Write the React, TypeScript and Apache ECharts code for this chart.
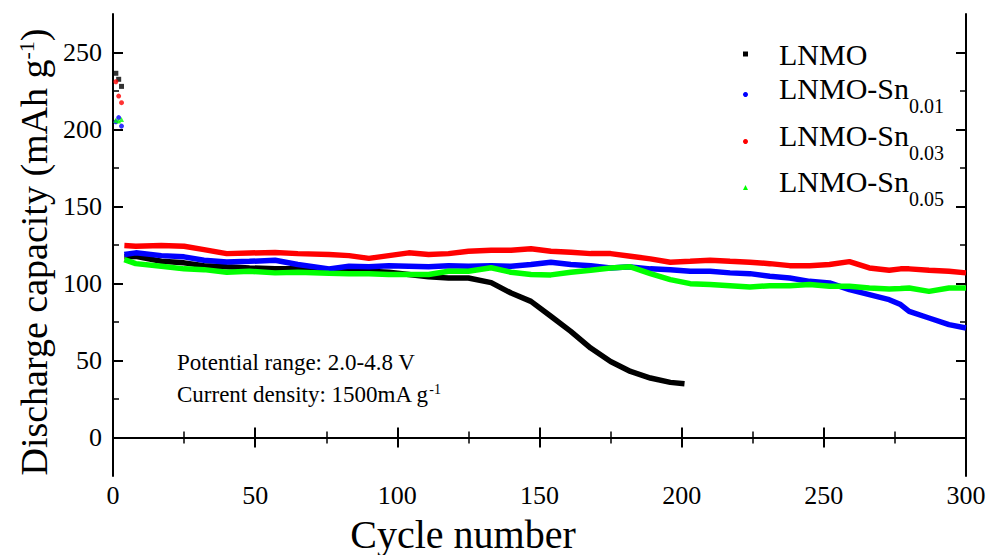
import React, { useEffect, useRef } from 'react';
import * as echarts from 'echarts';

const FONT = 'Liberation Serif';

// first three (low-rate) cycles
const firstCycles = [1, 2, 3];
const lnmoFirst = [236.5, 232.6, 228.0];
const sn001First = [205.0, 207.7, 202.2];
const sn003First = [231.0, 221.7, 217.4];
const sn005First = [206.0, 205.5, 206.5];

// main cycling
const cycles = [4, 8, 17, 25, 32, 40, 48, 57, 65, 76, 83, 90, 97, 104, 111, 118, 125, 133, 140, 147, 154, 161, 168, 175, 182, 189, 196, 203, 210, 217, 224, 231, 238, 245, 252, 259, 266, 273, 277, 280, 287, 294, 300];
const lnmoCycles = [4, 8, 17, 25, 32, 40, 48, 57, 65, 76, 83, 90, 97, 104, 111, 118, 125, 133, 140, 147, 154, 161, 168, 175, 182, 189, 196, 201];
const lnmo = [117.3, 117.6, 114.4, 113.4, 111.6, 110.8, 110.1, 109.5, 109.5, 108.6, 107.9, 107.9, 107.3, 105.8, 104.3, 103.6, 103.6, 100.6, 93.8, 88.4, 78.7, 68.9, 58.1, 49.4, 42.9, 38.6, 35.8, 34.9];
const sn001 = [118.8, 119.9, 118.1, 117.3, 115.1, 114.0, 114.4, 115.1, 112.3, 109.5, 111.2, 110.8, 111.6, 111.2, 110.8, 111.6, 111.2, 111.6, 111.2, 112.3, 113.8, 112.3, 111.6, 110.1, 110.8, 109.5, 109.0, 107.9, 107.9, 106.9, 106.4, 104.7, 103.6, 101.4, 100.4, 96.0, 92.8, 89.5, 86.3, 81.9, 77.6, 73.3, 71.1];
const sn003 = [124.6, 124.2, 124.6, 124.2, 122.0, 119.4, 119.8, 120.2, 119.4, 118.8, 118.1, 116.3, 118.1, 119.9, 118.8, 119.4, 120.9, 121.6, 121.6, 122.5, 120.9, 120.3, 119.4, 119.4, 117.7, 116.0, 113.8, 114.4, 115.1, 114.4, 113.8, 112.9, 111.6, 111.6, 112.3, 114.2, 110.1, 108.6, 109.5, 109.5, 108.6, 107.9, 106.9];
const sn005 = [115.5, 112.9, 111.2, 109.5, 109.0, 107.3, 107.9, 106.9, 107.3, 106.6, 106.4, 106.4, 105.8, 105.8, 105.8, 107.9, 107.9, 110.2, 107.3, 105.8, 105.6, 107.3, 108.6, 110.1, 110.8, 106.4, 102.5, 99.9, 99.3, 98.6, 97.8, 98.6, 98.6, 99.3, 98.2, 98.2, 97.1, 96.5, 96.8, 97.1, 94.9, 97.1, 97.1];

const seriesNames = ['LNMO', 'LNMO-Sn0.01', 'LNMO-Sn0.03', 'LNMO-Sn0.05'];
const seriesColors = ['#000000', '#0000ff', '#ff0000', '#00ff00'];
const seriesSymbols = ['rect', 'circle', 'circle', 'triangle'];

const yMajorTicks = [0, 50, 100, 150, 200, 250];
const yMinorTicks = [25, 75, 125, 175, 225];

const zip = (xs: number[], ys: number[]) => ys.map((y, i) => [xs[i], y]);

export default function App() {
  const ref = useRef<HTMLDivElement>(null);

  useEffect(() => {
    if (!ref.current) return;
    const chart = echarts.init(ref.current, undefined, { renderer: 'svg' });

    const mainData = [zip(lnmoCycles, lnmo), zip(cycles, sn001), zip(cycles, sn003), zip(cycles, sn005)];
    const firstData = [lnmoFirst, sn001First, sn003First, sn005First].map((v) => zip(firstCycles, v));

    const lineSeries = seriesNames.map((name, i) => ({
      name,
      type: 'line',
      data: mainData[i],
      showSymbol: false,
      symbol: seriesSymbols[i],
      lineStyle: { color: seriesColors[i], width: 5.5 },
      itemStyle: { color: seriesColors[i] },
      xAxisIndex: 0,
      yAxisIndex: 0,
      z: 2 + i,
    }));
    const firstSeries = seriesNames.map((name, i) => ({
      name,
      type: 'scatter',
      data: firstData[i],
      symbol: seriesSymbols[i],
      symbolSize: 5,
      itemStyle: { color: seriesColors[i] },
      xAxisIndex: 0,
      yAxisIndex: 0,
      z: 2 + i,
    }));

    const legendTops = [39, 73, 120, 166];
    const legends = seriesNames.map((name, i) => ({
      data: [{ name, icon: seriesSymbols[i] }],
      left: 743,
      top: legendTops[i],
      padding: 0,
      itemWidth: 5,
      itemHeight: 5,
      selectedMode: false,
      formatter: (n: string) => (n === 'LNMO' ? '{a|LNMO}' : '{a|LNMO-Sn}{s|' + n.slice(7) + '}'),
      textStyle: {
        fontFamily: FONT,
        fontSize: 30,
        color: '#000',
        rich: {
          a: { fontFamily: FONT, fontSize: 30, color: '#000', verticalAlign: 'top', padding: [0, 0, 0, 26] },
          s: { fontFamily: FONT, fontSize: 20, color: '#000', verticalAlign: 'bottom', padding: [23, 0, 0, 0] },
        },
      },
    }));

    const axisLineStyle = { color: '#000', width: 2 };

    const yBase = {
      type: 'value',
      min: -25,
      max: 275,
      interval: 25,
      splitLine: { show: false },
    };

    chart.setOption({
      animation: false,
      backgroundColor: '#ffffff',
      textStyle: { fontFamily: FONT },
      grid: { left: 113, right: 26, top: 14, bottom: 79, containLabel: false },
      legend: legends,
      xAxis: [
        {
          type: 'value',
          position: 'bottom',
          min: 0,
          max: 300,
          interval: 50,
          axisLine: { show: true, lineStyle: axisLineStyle },
          axisTick: { show: true, inside: true, length: 10, lineStyle: { color: '#000', width: 2 } },
          minorTick: { show: true, splitNumber: 2, length: 6, lineStyle: { color: '#000', width: 1.5 } },
          splitLine: { show: false },
          axisLabel: { show: true, color: '#000', fontFamily: FONT, fontSize: 26, margin: 6 },
        },
        {
          type: 'value',
          position: 'top',
          min: 0,
          max: 300,
          interval: 50,
          axisLine: { show: true, lineStyle: axisLineStyle },
          axisTick: { show: true, inside: true, length: 10, lineStyle: { color: '#000', width: 2 } },
          minorTick: { show: true, splitNumber: 2, length: 6, lineStyle: { color: '#000', width: 1.5 } },
          splitLine: { show: false },
          axisLabel: { show: false },
        },
      ],
      yAxis: [
        {
          ...yBase,
          position: 'left',
          axisLine: { show: true, lineStyle: axisLineStyle },
          axisTick: { show: true, inside: true, length: 10, customValues: yMajorTicks, lineStyle: { color: '#000', width: 2 } },
          axisLabel: { show: true, customValues: yMajorTicks, color: '#000', fontFamily: FONT, fontSize: 26, margin: 11 },
        },
        {
          ...yBase,
          position: 'left',
          axisLine: { show: false },
          axisTick: { show: true, inside: true, length: 6, customValues: yMinorTicks, lineStyle: { color: '#000', width: 1.5 } },
          axisLabel: { show: false },
        },
        {
          ...yBase,
          position: 'right',
          axisLine: { show: true, lineStyle: axisLineStyle },
          axisTick: { show: true, inside: true, length: 10, customValues: yMajorTicks, lineStyle: { color: '#000', width: 2 } },
          axisLabel: { show: false },
        },
        {
          ...yBase,
          position: 'right',
          axisLine: { show: false },
          axisTick: { show: true, inside: true, length: 6, customValues: yMinorTicks, lineStyle: { color: '#000', width: 1.5 } },
          axisLabel: { show: false },
        },
      ],
      series: [...lineSeries, ...firstSeries],
      graphic: [
        {
          type: 'text',
          x: 177,
          y: 362,
          style: {
            text: 'Potential range: 2.0-4.8 V',
            fontFamily: FONT,
            fontSize: 23,
            fill: '#000',
            align: 'left',
            verticalAlign: 'middle',
          },
        },
        {
          type: 'text',
          x: 177,
          y: 394,
          style: {
            text: '{a|Current density: 1500mA g}{b|-1}',
            fontFamily: FONT,
            fontSize: 23,
            fill: '#000',
            align: 'left',
            verticalAlign: 'middle',
            rich: {
              a: { fontFamily: FONT, fontSize: 23, fill: '#000', verticalAlign: 'bottom' },
              b: { fontFamily: FONT, fontSize: 14, fill: '#000', verticalAlign: 'top' },
            },
          },
        },
        {
          type: 'text',
          x: 34,
          y: 252,
          rotation: Math.PI / 2,
          style: {
            text: '{a|Discharge capacity (mAh g}{b|-1}{a|)}',
            fontFamily: FONT,
            fontSize: 38,
            fill: '#000',
            align: 'center',
            verticalAlign: 'middle',
            rich: {
              a: { fontFamily: FONT, fontSize: 38, fill: '#000', verticalAlign: 'bottom' },
              b: { fontFamily: FONT, fontSize: 22, fill: '#000', verticalAlign: 'top' },
            },
          },
        },
        {
          type: 'text',
          x: 463,
          y: 534,
          style: {
            text: 'Cycle number',
            fontFamily: FONT,
            fontSize: 40,
            fill: '#000',
            align: 'center',
            verticalAlign: 'middle',
          },
        },
      ],
    });

    return () => chart.dispose();
  }, []);

  return (
    <div
      ref={ref}
      style={{ position: 'fixed', left: 0, top: 0, width: 992, height: 555, background: '#fff' }}
    />
  );
}
